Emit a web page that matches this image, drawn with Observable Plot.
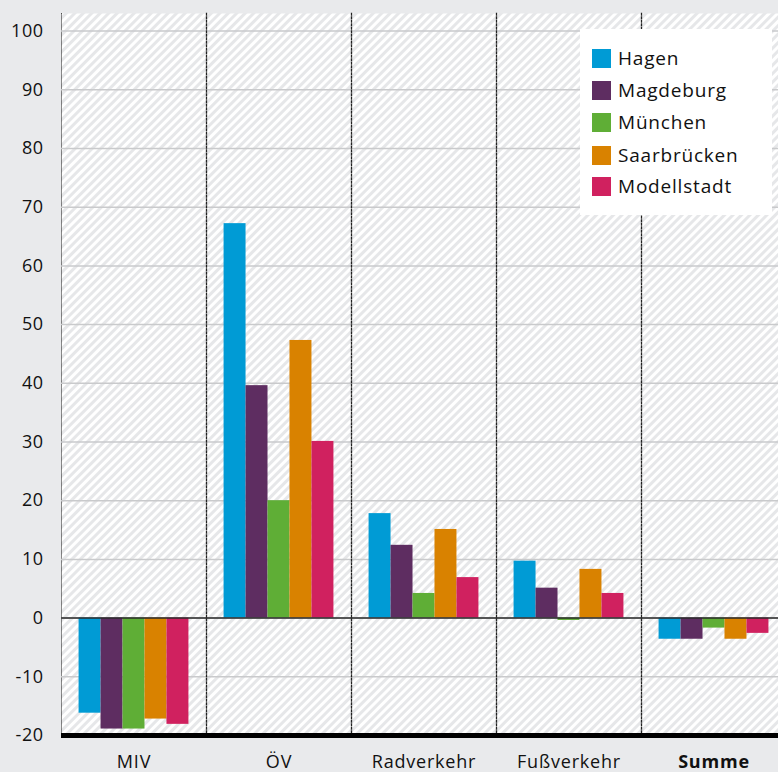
<!DOCTYPE html>
<html>
<head>
<meta charset="utf-8">
<script src="https://cdn.jsdelivr.net/npm/d3@7"></script>
<script src="https://cdn.jsdelivr.net/npm/@observablehq/plot@0.6"></script>
<style>
  html, body { margin: 0; padding: 0; background: #e9eaec; }
  #wrap { position: relative; width: 778px; height: 772px; overflow: hidden; font-family: "Open Sans", sans-serif; }
  #legend { position: absolute; left: 580px; top: 29px; width: 192px; height: 186px; background: #fff; }
  .item { position: absolute; left: 12px; height: 20px; display: flex; align-items: center; font-size: 19px; color: #111; letter-spacing: 0.8px; }
  .sw { width: 19px; height: 19px; margin-right: 7px; flex: none; }
</style>
</head>
<body>
<div id="wrap"><div id="chart"></div><div id="legend"></div></div>
<script>
const categories = ["MIV", "ÖV", "Radverkehr", "Fußverkehr", "Summe"];
const cities = ["Hagen", "Magdeburg", "München", "Saarbrücken", "Modellstadt"];
const colors = ["#009bd5", "#5e2d61", "#5fae36", "#d98200", "#d0215f"];
const hagen       = [-16.2, 67.2, 17.8, 9.7, -3.6];
const magdeburg   = [-18.9, 39.6, 12.4, 5.1, -3.6];
const muenchen    = [-18.9, 20.0,  4.2, -0.4, -1.7];
const saarbruecken= [-17.2, 47.3, 15.1, 8.3, -3.6];
const modellstadt = [-18.1, 30.1,  6.9, 4.2, -2.6];
const yTicks = [-20, -10, 0, 10, 20, 30, 40, 50, 60, 70, 80, 90, 100];

const series = [hagen, magdeburg, muenchen, saarbruecken, modellstadt];
const data = [];
categories.forEach((c, i) => cities.forEach((city, j) => data.push({cat: c, city, value: series[j][i]})));

const chart = Plot.plot({
  width: 778,
  height: 772,
  marginLeft: 61,
  marginRight: -8,
  marginTop: 13,
  marginBottom: 37,
  style: {background: "#e9eaec", fontFamily: "Open Sans, sans-serif", fontSize: "18px", color: "#111", overflow: "visible"},
  fx: {domain: categories, padding: 0, axis: "bottom", tickSize: 0, tickPadding: 20, label: null},
  x: {domain: cities, axis: null, paddingInner: 0, paddingOuter: 0.8, round: false},
  y: {domain: [-20, 103], ticks: yTicks, tickSize: 0, tickPadding: 18, label: null, line: true, tickFormat: d => String(d)},
  color: {domain: cities, range: colors},
  marks: [
    Plot.frame({fill: "url(#hatch)", stroke: "none"}),
    Plot.gridY(yTicks, {stroke: "#c9cacc", strokeOpacity: 1, strokeWidth: 1.5}),
    Plot.barY(data, {fx: "cat", x: "city", y: "value", fill: "city"}),
    Plot.ruleY([0], {stroke: "#2a2a2a", strokeWidth: 1.5}),
    Plot.frame({anchor: "right", stroke: "#222", strokeWidth: 1.3, strokeDasharray: "1.5,2"}),
    Plot.ruleY([-20], {stroke: "#000", strokeWidth: 5})
  ]
});

const svg = d3.select(chart.tagName === "svg" ? chart : chart.querySelector("svg"));
const defs = svg.insert("defs", ":first-child");
const pat = defs.append("pattern").attr("id", "hatch").attr("patternUnits", "userSpaceOnUse")
  .attr("width", 6).attr("height", 6).attr("patternTransform", "rotate(45)");
pat.append("rect").attr("width", 6).attr("height", 6).attr("fill", "#ffffff");
pat.append("rect").attr("width", 3).attr("height", 6).attr("fill", "#e6e7e9");
svg.selectAll("text").filter(function() { return this.textContent === "Summe"; }).attr("font-weight", "bold");
svg.selectAll("text").filter(function() { return categories.includes(this.textContent); }).attr("letter-spacing", "0.8px");
svg.selectAll("text").filter(function() { return /^-?\d+$/.test(this.textContent); }).attr("letter-spacing", "0.5px");

document.getElementById("chart").appendChild(chart);

const legend = document.getElementById("legend");
const rowTops = [19, 51, 83, 116, 147];
cities.forEach((c, i) => {
  const it = document.createElement("div");
  it.className = "item";
  it.style.top = rowTops[i] + "px";
  it.innerHTML = `<span class="sw" style="background:${colors[i]}"></span><span>${c}</span>`;
  legend.appendChild(it);
});
</script>
</body>
</html>
